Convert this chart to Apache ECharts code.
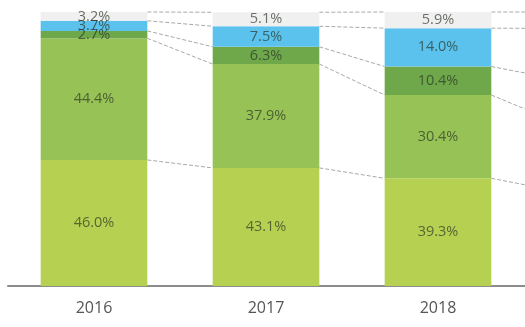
<!DOCTYPE html>
<html>
<head>
<meta charset="utf-8">
<script src="https://cdn.jsdelivr.net/npm/echarts@6/dist/echarts.min.js"></script>
<style>
  html, body { margin: 0; padding: 0; background: #fff; }
  #main { width: 525px; height: 327px; }
</style>
</head>
<body>
<div id="main"></div>
<script>
// 2019 continues off the right edge; only its connector lines are visible
const years = ["2016", "2017", "2018", "2019"];
const seg1 = [46.0, 43.1, 39.3, 34.7];
const seg2 = [44.4, 37.9, 30.4, 25.1];
const seg3 = [2.7, 6.3, 10.4, 15.7];
const seg4 = [3.7, 7.5, 14.0, 18.5];
const seg5 = [3.2, 5.1, 5.9, 6.0];

const segments = [seg1, seg2, seg3, seg4, seg5];
const colors = ["#b6d052", "#97c255", "#6ea84b", "#5bc2ee", "#f0f0f0"];

// cumulative tops of each segment, used for the dashed connectors
function buildConnectors() {
  const items = [];
  const running = years.map(() => 0);
  segments.forEach((seg) => {
    seg.forEach((v, i) => (running[i] += v));
    for (let i = 0; i < years.length - 1; i++) {
      items.push([i, running[i], running[i + 1]]);
    }
  });
  return items;
}

const chart = echarts.init(document.getElementById("main"));

const barSeries = segments.map((seg, k) => ({
  type: "bar",
  stack: "total",
  barWidth: "62%",
  data: seg,
  itemStyle: { color: colors[k] },
  label: {
    show: true,
    position: "inside",
    formatter: (p) => p.value.toFixed(1) + "%",
    fontSize: 14.5,
    fontFamily: "Open Sans",
    color: "rgba(40, 50, 35, 0.68)",
  },
  silent: true,
}));

const option = {
  animation: false,
  grid: {
    left: 8,
    right: -171,
    top: 12,
    bottom: 41,
    outerBoundsMode: "none",
    containLabel: false,
  },
  xAxis: {
    type: "category",
    data: years,
    axisLine: { lineStyle: { color: "#8c8c8c", width: 2 } },
    axisTick: { show: false },
    axisLabel: {
      fontSize: 16,
      fontFamily: "Open Sans",
      color: "#555",
      margin: 14,
    },
  },
  yAxis: {
    type: "value",
    min: 0,
    max: 100,
    show: false,
  },
  series: [
    ...barSeries,
    {
      type: "custom",
      data: buildConnectors(),
      encode: { x: 0, y: 1 },
      z: 1,
      silent: true,
      renderItem: function (params, api) {
        const i = api.value(0);
        const start = api.coord([i, api.value(1)]);
        const end = api.coord([i + 1, api.value(2)]);
        const half = api.size([1, 0])[0] * 0.31;
        return {
          type: "line",
          shape: {
            x1: start[0] + half,
            y1: start[1],
            x2: end[0] - half,
            y2: end[1],
          },
          style: {
            stroke: "#a8a8a8",
            lineWidth: 1,
            lineDash: [4, 2],
          },
        };
      },
    },
  ],
};

chart.setOption(option);
</script>
</body>
</html>
